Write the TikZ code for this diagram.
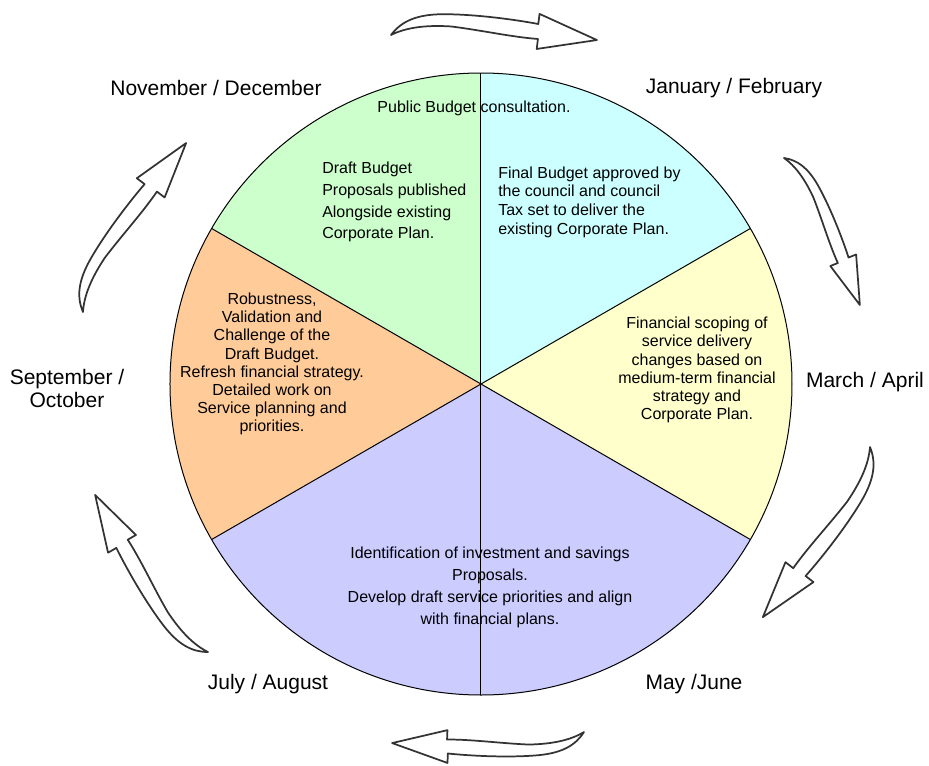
\documentclass[tikz,border=0pt]{standalone}
\usepackage{fontspec}
\setmainfont{Liberation Sans}
\usepackage{xcolor}

\definecolor{sectorGreen}{HTML}{CCFFCC}
\definecolor{sectorCyan}{HTML}{CCFFFF}
\definecolor{sectorYellow}{HTML}{FFFFCC}
\definecolor{sectorOrange}{HTML}{FFCC99}
\definecolor{sectorBlue}{HTML}{CCCCFF}

\tikzset{
  phase/.style={font=\fontsize{12}{#1}\selectfont, inner sep=0pt},
  month/.style={font=\fontsize{15.75}{17.25}\selectfont, inner sep=0pt, align=center},
  arrowline/.style={draw=black!80, line width=1.3pt, fill=white, line join=round},
  cyclearrow/.pic={
    \draw[arrowline] (0,0) .. controls (10,14) and (25,21) .. (50,22)
      .. controls (80,23) and (120,19) .. (147,14.6) -- (148,24.7) -- (206,0)
      -- (146,-10.4) -- (147,-0.4) .. controls (120,1) and (90,7) .. (60,10)
      .. controls (35,11) and (15,8) .. (0,0) -- cycle;
  }
}

\begin{document}
\begin{tikzpicture}[x=0.75pt, y=0.75pt]
            \useasboundingbox (-481,-381) rectangle (448,384);
            \coordinate (c) at (0,0);

            \fill[sectorCyan] (c) -- (90:311) arc[start angle=90, end angle=30, radius=311] -- cycle;
            \fill[sectorGreen] (c) -- (150:311) arc[start angle=150, end angle=90, radius=311] -- cycle;
            \fill[sectorOrange] (c) -- (210:311) arc[start angle=210, end angle=150, radius=311] -- cycle;
            \fill[sectorBlue] (c) -- (330:311) arc[start angle=330, end angle=210, radius=311] -- cycle;
            \fill[sectorYellow] (c) -- (30:311) arc[start angle=30, end angle=-30, radius=311] -- cycle;

            \draw[line width=0.75pt] (c) circle[radius=311];
            \draw[line width=0.75pt] (90:311) -- (270:311);
            \draw[line width=0.75pt] (c) -- (30:311);
            \draw[line width=0.75pt] (c) -- (150:311);
            \draw[line width=0.75pt] (c) -- (210:311);
            \draw[line width=0.75pt] (c) -- (330:311);

            \node[phase=14] (consult) at (-7,276) {Public Budget consultation.};
            \node[phase=16.3, align=left, anchor=west] (draft) at (-159,182)
              {Draft Budget\\Proposals published\\Alongside existing\\Corporate Plan.};
            \node[phase=14, align=left, anchor=west] (final) at (17,182)
              {Final Budget approved by\\the council and council\\Tax set to deliver the\\existing Corporate Plan.};
            \node[phase=13.65, align=center] (scoping) at (216,14)
              {Financial scoping of\\service delivery\\changes based on\\medium-term financial\\strategy and\\Corporate Plan.};
            \node[phase=13.6, align=center] (robust) at (-209,20)
              {Robustness,\\Validation and\\Challenge of the\\Draft Budget.\\Refresh financial strategy.\\Detailed work on\\Service planning and\\priorities.};
            \node[phase=16.5, align=center] (ident) at (9,-203)
              {Identification of investment and savings\\Proposals.\\Develop draft service priorities and align\\with financial plans.};

            \node[month] (novdec) at (-265,296) {November / December};
            \node[month] (janfeb) at (253,296) {January / February};
            \node[month] (marapr) at (384,2) {March / April};
            \node[month] (mayjun) at (213,-300) {May /June};
            \node[month] (julaug) at (-213,-300) {July / August};
            \node[month] (sepoct) at (-414,-4) {September /\\October};

            \pic[rotate=-1.4] at (-90,349) {cyclearrow};
            \pic[rotate=-62.7, scale=0.803] at (303,226) {cyclearrow};
            \pic[rotate=-122.2, scale=0.976] at (389,-63) {cyclearrow};
            \pic[rotate=-176.7, scale=0.933] at (103,-348) {cyclearrow};
            \pic[rotate=125.7, scale=0.939] at (-273,-268) {cyclearrow};
            \pic[rotate=58.6, scale=0.961] at (-398,72) {cyclearrow};
        \end{tikzpicture}
\end{document}
